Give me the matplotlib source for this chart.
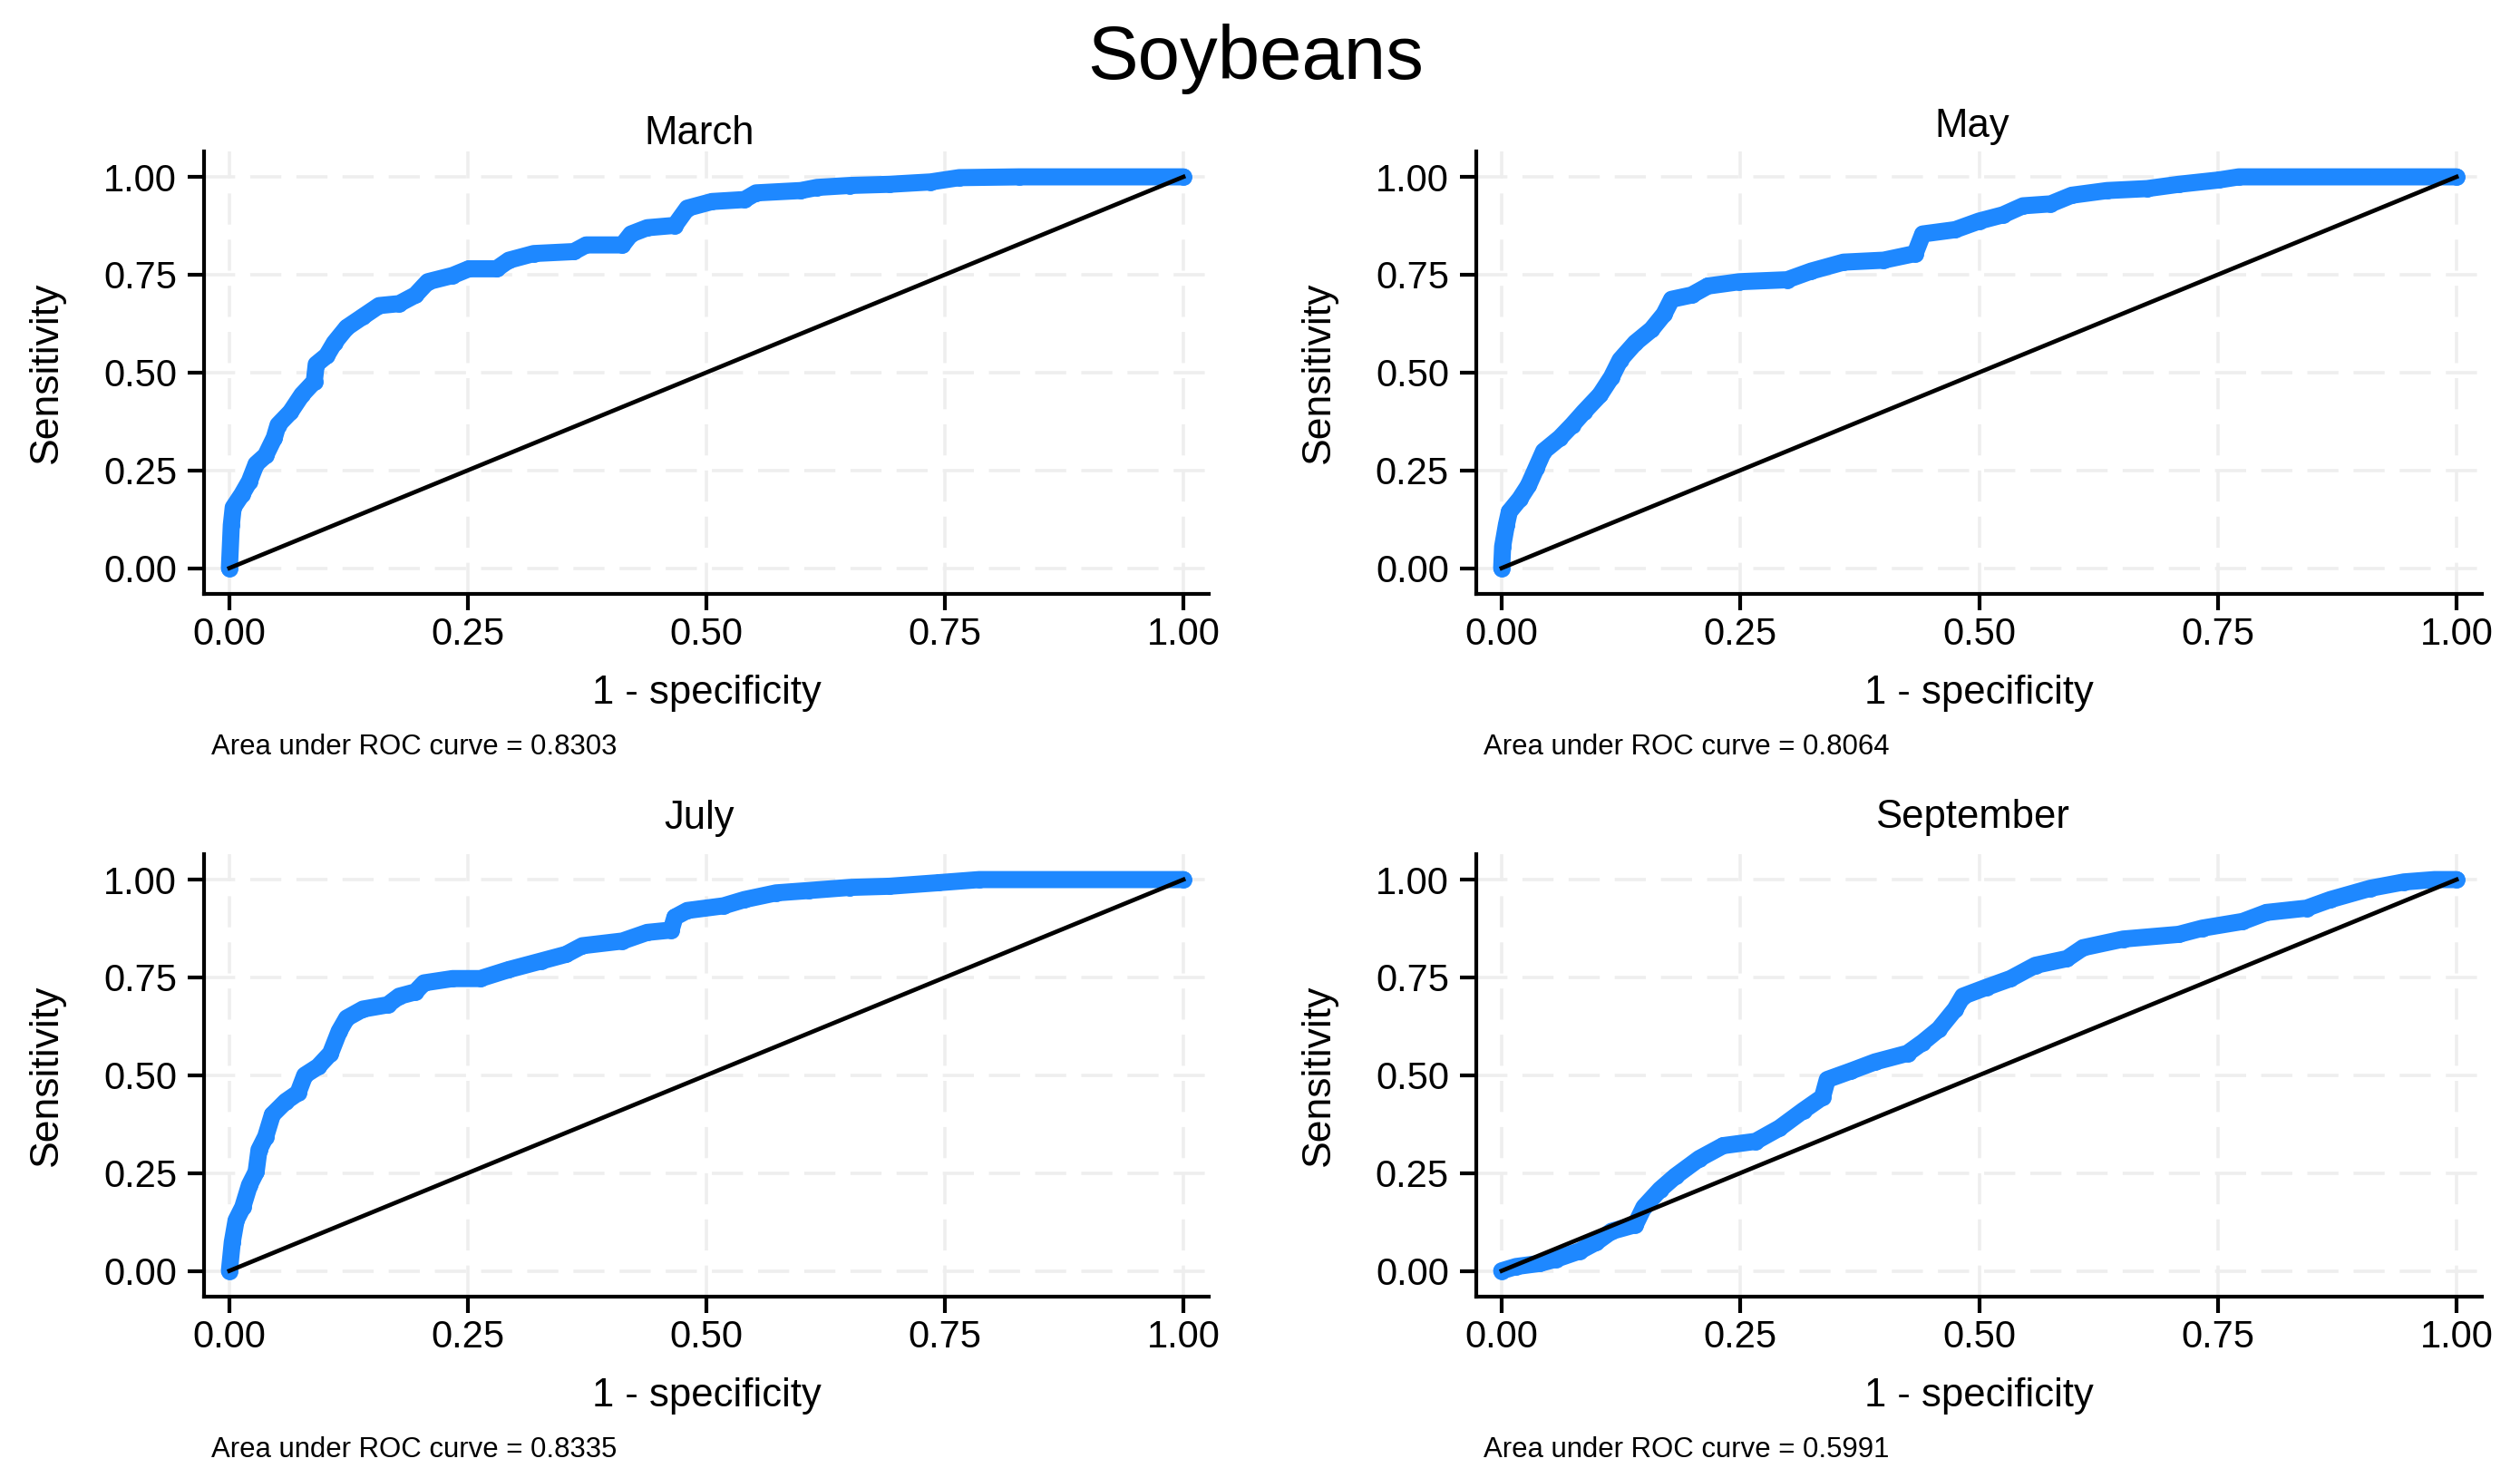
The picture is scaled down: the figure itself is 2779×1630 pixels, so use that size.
import numpy as np
import matplotlib.pyplot as plt

plt.rcParams['font.family'] = ['Liberation Sans', 'DejaVu Sans']

# figure size in pixels
W, H = 2779, 1630
DPI = 200

# =========================
# data
# =========================
months = ["March", "May", "July", "September"]
auc = [0.8303, 0.8064, 0.8335, 0.5991]
title_main = "Soybeans"

march_fpr = [0.000, 0.002, 0.004, 0.013, 0.021, 0.028, 0.038, 0.047, 0.051, 0.064,
             0.076, 0.089, 0.091, 0.102, 0.110, 0.123, 0.140, 0.157, 0.178, 0.195,
             0.208, 0.234, 0.251, 0.280, 0.293, 0.319, 0.361, 0.374, 0.412, 0.421,
             0.438, 0.467, 0.480, 0.506, 0.540, 0.552, 0.599, 0.616, 0.650, 0.692,
             0.735, 0.765, 0.828, 1.000]
march_tpr = [0.000, 0.110, 0.155, 0.188, 0.222, 0.266, 0.288, 0.333, 0.366, 0.399,
             0.443, 0.477, 0.521, 0.543, 0.576, 0.615, 0.643, 0.671, 0.676, 0.698,
             0.732, 0.748, 0.765, 0.765, 0.787, 0.804, 0.809, 0.826, 0.826, 0.854,
             0.870, 0.876, 0.920, 0.937, 0.942, 0.959, 0.965, 0.973, 0.978, 0.981,
             0.987, 0.998, 1.000, 1.000]

may_fpr = [0.000, 0.001, 0.005, 0.008, 0.019, 0.028, 0.036, 0.044, 0.061, 0.074,
           0.086, 0.103, 0.115, 0.124, 0.140, 0.157, 0.170, 0.178, 0.199, 0.216,
           0.249, 0.299, 0.324, 0.358, 0.400, 0.433, 0.441, 0.475, 0.500, 0.525,
           0.546, 0.575, 0.597, 0.634, 0.676, 0.709, 0.751, 0.772, 1.000]
may_tpr = [0.000, 0.055, 0.111, 0.144, 0.177, 0.211, 0.255, 0.299, 0.333, 0.366,
           0.399, 0.443, 0.488, 0.532, 0.576, 0.610, 0.649, 0.687, 0.698, 0.721,
           0.732, 0.737, 0.759, 0.782, 0.787, 0.804, 0.854, 0.865, 0.887, 0.903,
           0.926, 0.931, 0.953, 0.965, 0.970, 0.981, 0.992, 1.000, 1.000]

july_fpr = [0.000, 0.003, 0.007, 0.014, 0.021, 0.028, 0.031, 0.038, 0.045, 0.059,
            0.072, 0.079, 0.093, 0.106, 0.115, 0.123, 0.140, 0.166, 0.178, 0.195,
            0.204, 0.234, 0.263, 0.293, 0.327, 0.353, 0.370, 0.412, 0.438, 0.463,
            0.467, 0.480, 0.518, 0.540, 0.573, 0.607, 0.650, 0.692, 0.743, 0.786,
            1.000]
july_tpr = [0.000, 0.073, 0.129, 0.163, 0.219, 0.253, 0.309, 0.343, 0.399, 0.433,
            0.455, 0.500, 0.522, 0.556, 0.612, 0.646, 0.669, 0.680, 0.702, 0.713,
            0.736, 0.747, 0.747, 0.770, 0.792, 0.809, 0.831, 0.843, 0.865, 0.871,
            0.904, 0.921, 0.933, 0.949, 0.966, 0.972, 0.980, 0.983, 0.992, 1.000,
            1.000]

sept_fpr = [0.000, 0.015, 0.040, 0.057, 0.082, 0.099, 0.115, 0.140, 0.149, 0.166,
            0.182, 0.207, 0.232, 0.266, 0.291, 0.316, 0.336, 0.341, 0.366, 0.391,
            0.425, 0.441, 0.458, 0.475, 0.483, 0.508, 0.533, 0.559, 0.592, 0.609,
            0.651, 0.709, 0.734, 0.776, 0.801, 0.843, 0.868, 0.910, 0.945, 0.977,
            1.000]
sept_tpr = [0.000, 0.011, 0.019, 0.030, 0.051, 0.073, 0.101, 0.118, 0.163, 0.208,
            0.242, 0.287, 0.320, 0.331, 0.365, 0.410, 0.444, 0.489, 0.511, 0.534,
            0.556, 0.584, 0.618, 0.669, 0.702, 0.725, 0.747, 0.781, 0.798, 0.826,
            0.848, 0.860, 0.876, 0.893, 0.916, 0.927, 0.949, 0.978, 0.994, 1.000,
            1.000]

ticks = [0.0, 0.25, 0.5, 0.75, 1.0]
tick_labels = ["0.00", "0.25", "0.50", "0.75", "1.00"]

curves = [(march_fpr, march_tpr), (may_fpr, may_tpr),
          (july_fpr, july_tpr), (sept_fpr, sept_tpr)]

BLUE = "#1E88FF"
GRID = "#EEEEEE"


def fx(px):
    return px / W


def fy(py):
    return 1 - py / H


# axes frames in pixels (left, right) / (top, bottom)
cols = [(225, 1333), (1628, 2737)]
rows = [(167, 655), (942, 1430)]
title_base = [159, 151, 914, 913]

fig = plt.figure(figsize=(W / DPI, H / DPI), dpi=DPI)
fig.text(fx(1385), fy(87), title_main, ha="center", va="baseline", fontsize=30)

for i, (month, a, (xs, ys)) in enumerate(zip(months, auc, curves)):
    l, r = cols[i % 2]
    t, b = rows[i // 2]
    ax = fig.add_axes([fx(l), fy(b), (r - l) / W, (b - t) / H])

    ax.plot(xs, ys, color=BLUE, lw=6.8, marker="o", ms=6.8, mew=0,
            solid_capstyle="round", solid_joinstyle="round", zorder=2, clip_on=False)
    ax.plot([0, 1], [0, 1], color="black", lw=1.7, zorder=3)

    ax.set_xlim(-0.0266, 1.0266)
    ax.set_ylim(-0.066, 1.065)
    ax.set_xticks(ticks, tick_labels)
    ax.set_yticks(ticks, tick_labels)
    ax.tick_params(axis="both", direction="out", length=6.5, width=1.5,
                   colors="black", labelsize=15)
    ax.tick_params(axis="x", pad=2.5)
    ax.tick_params(axis="y", pad=4.3)
    for s in ["top", "right"]:
        ax.spines[s].set_visible(False)
    for s in ["left", "bottom"]:
        ax.spines[s].set_linewidth(1.5)
    ax.grid(True, color=GRID, lw=1.3, dashes=(9.5, 4.6), zorder=0)
    ax.set_axisbelow(True)

    # titles and labels
    fig.text(fx(l + 0.493 * (r - l)), fy(title_base[i]), month,
             ha="center", va="baseline", fontsize=15.7)
    fig.text(fx((l + r) / 2), fy(b + 121), "1 - specificity",
             ha="center", va="baseline", fontsize=15.7)
    fig.text(fx(l - 162), fy((t + b) / 2), "Sensitivity", rotation=90,
             rotation_mode="anchor", ha="center", va="baseline", fontsize=16)
    fig.text(fx(l + 8), fy(b + 177), f"Area under ROC curve = {a:.4f}",
             ha="left", va="baseline", fontsize=11.2)

fig.savefig("out.png", dpi=DPI)
